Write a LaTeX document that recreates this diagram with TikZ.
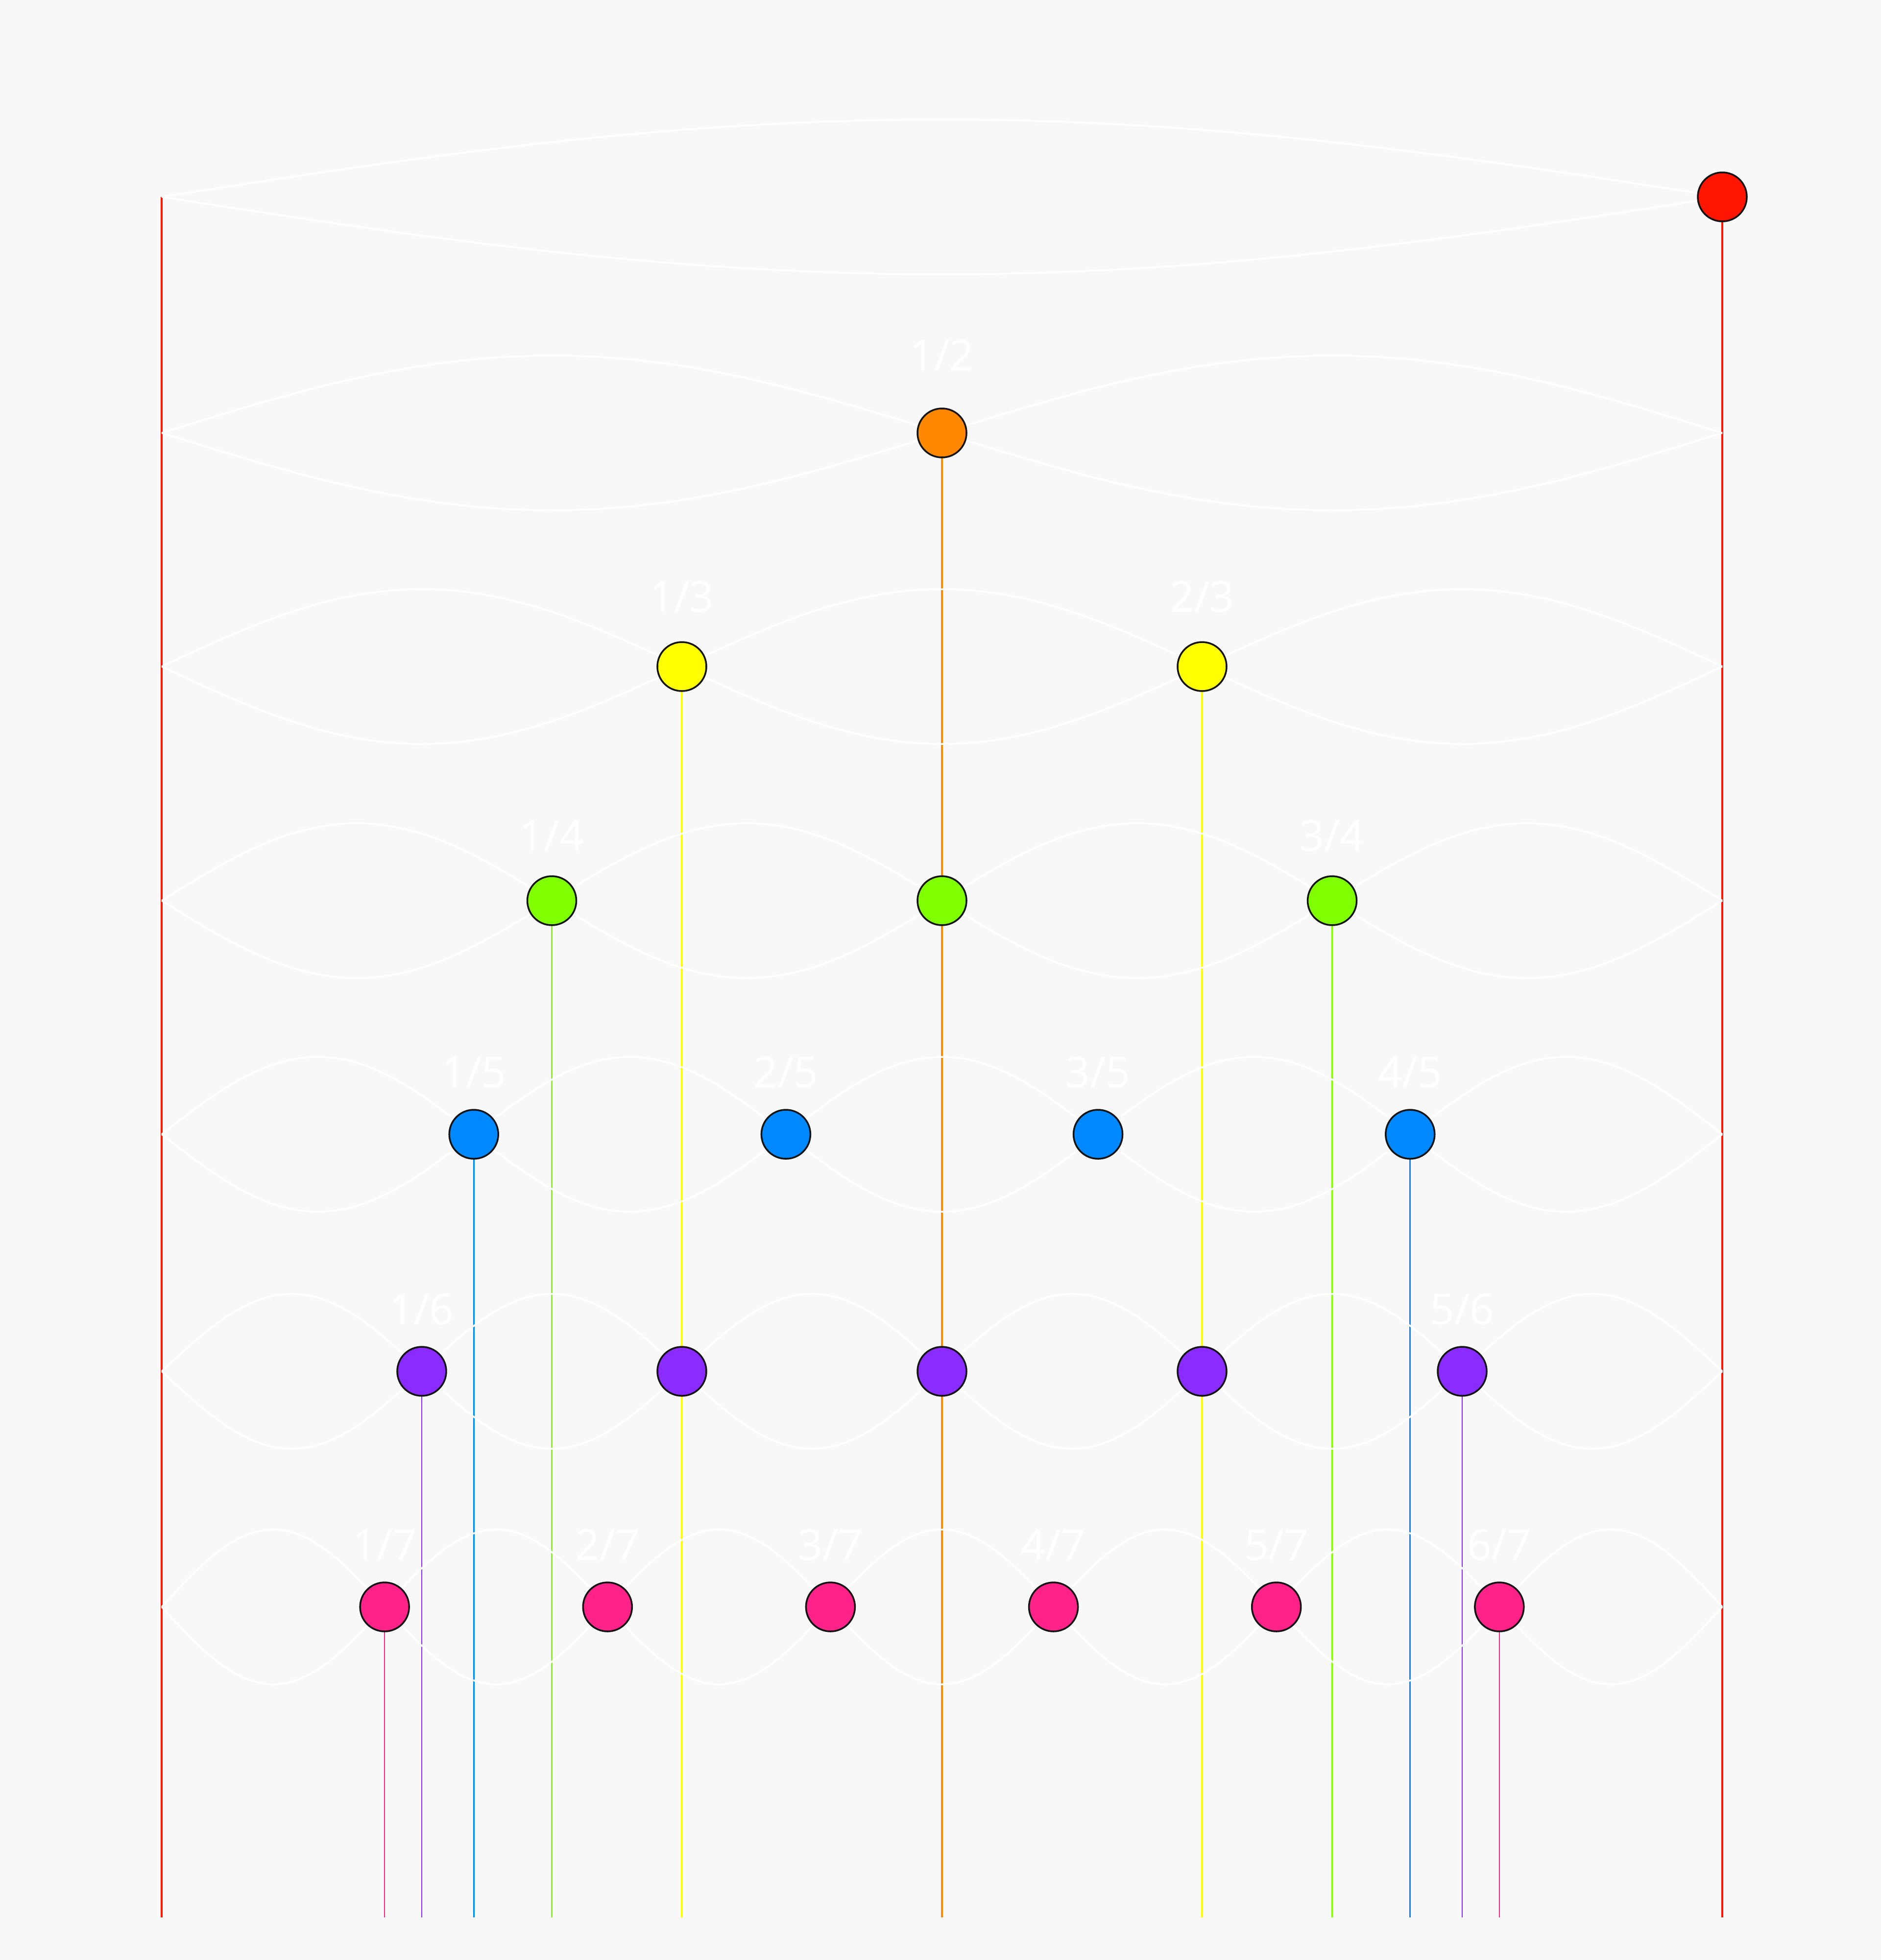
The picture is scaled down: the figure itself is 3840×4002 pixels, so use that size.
\documentclass[tikz,border=0pt]{standalone}
\usepackage{fontspec}
\setmainfont{Open Sans}
\definecolor{bgc}{HTML}{F8F8F8}
\definecolor{c1}{HTML}{FF1500}
\definecolor{c2}{HTML}{FF8800}
\definecolor{c3}{HTML}{FFFF00}
\definecolor{c4}{HTML}{80FF00}
\definecolor{c5}{HTML}{0088FF}
\definecolor{c6}{HTML}{8A2BFF}
\definecolor{c7}{HTML}{FF2288}
\pgfdeclarelayer{bglayer}
\pgfdeclarelayer{wavelayer}
\pgfsetlayers{bglayer,wavelayer,main}
\def\LL{330}
\def\RR{3516}
\newcommand\mkdot[5]{% name, color, k, n, y
  \pgfmathsetmacro\xx{\LL+#3/#4*(\RR-\LL)}
  \node[dot,fill=#2] (#1) at (\xx,#5) {};}
\newcommand\mklbl[3]{% dot, text, baseline offset
  \path (#1.center) ++(0,#3) node[lbl] (#1-lbl) {#2};}
\newcommand\mkline[3]{% dot, colour, width
  \coordinate (#1-end) at (#1.center |- bottomref);
  \begin{pgfonlayer}{bglayer}
  \draw[#2,line width=#3pt] (#1.center) -- (#1-end);
  \end{pgfonlayer}}
\newcommand\rowwave[2]{% y, n
  \pgfmathsetmacro\ww{(\RR-\LL)/#2}
  \foreach \j in {1,...,#2}{
    \pgfmathsetmacro\xa{\LL+(\j-1)*\ww}
    \pgfmathsetmacro\xm{\xa+\ww/2}
    \pgfmathsetmacro\xb{\xa+\ww}
    \draw[wave] (\xa,#1) sin (\xm,#1-158) cos (\xb,#1);
    \draw[wave] (\xa,#1) sin (\xm,#1+158) cos (\xb,#1);
  }}
\begin{document}
\begin{tikzpicture}[x=1pt,y=-1pt,
  dot/.style={circle,draw=black!92,line width=3.5pt,minimum size=100pt,inner sep=0pt},
  wave/.style={white,line width=3.5pt},
  lbl/.style={text=white,font=\fontsize{87}{90}\selectfont,inner sep=0pt,anchor=base}]
\begin{pgfonlayer}{bglayer}
\fill[bgc] (0,0) rectangle (3840,4002);
\end{pgfonlayer}
\useasboundingbox (0,0) rectangle (3840,4002);
\coordinate (bottomref) at (0,3915);

% waves
\begin{pgfonlayer}{wavelayer}
\rowwave{402}{1}
\rowwave{884}{2}
\rowwave{1361}{3}
\rowwave{1839}{4}
\rowwave{2316}{5}
\rowwave{2800}{6}
\rowwave{3281}{7}
\end{pgfonlayer}

% row 1
\coordinate (r1k0) at (\LL,402);
\mkdot{r1k1}{c1}{1}{1}{402}
\mkline{r1k0}{c1}{4.5}
\mkline{r1k1}{c1}{4.5}
% row 2
\mkdot{r2k1}{c2}{1}{2}{884}
\mkline{r2k1}{c2}{4}
\mklbl{r2k1}{1/2}{-128}
% row 3
\mkdot{r3k1}{c3}{1}{3}{1361}
\mkdot{r3k2}{c3}{2}{3}{1361}
\mkline{r3k1}{c3}{3.6}
\mkline{r3k2}{c3}{3.6}
\mklbl{r3k1}{1/3}{-112}
\mklbl{r3k2}{2/3}{-112}
% row 4
\mkdot{r4k1}{c4}{1}{4}{1839}
\mkdot{r4k2}{c4}{2}{4}{1839}
\mkdot{r4k3}{c4}{3}{4}{1839}
\mkline{r4k1}{c4}{3.2}
\mkline{r4k3}{c4}{3.2}
\mklbl{r4k1}{1/4}{-102}
\mklbl{r4k3}{3/4}{-102}
% row 5
\mkdot{r5k1}{c5}{1}{5}{2316}
\mkdot{r5k2}{c5}{2}{5}{2316}
\mkdot{r5k3}{c5}{3}{5}{2316}
\mkdot{r5k4}{c5}{4}{5}{2316}
\mkline{r5k1}{c5}{2.7}
\mkline{r5k4}{c5}{2.7}
\mklbl{r5k1}{1/5}{-96}
\mklbl{r5k2}{2/5}{-96}
\mklbl{r5k3}{3/5}{-96}
\mklbl{r5k4}{4/5}{-96}
% row 6
\mkdot{r6k1}{c6}{1}{6}{2800}
\mkdot{r6k2}{c6}{2}{6}{2800}
\mkdot{r6k3}{c6}{3}{6}{2800}
\mkdot{r6k4}{c6}{4}{6}{2800}
\mkdot{r6k5}{c6}{5}{6}{2800}
\mkline{r6k1}{c6}{2.3}
\mkline{r6k5}{c6}{2.3}
\mklbl{r6k1}{1/6}{-96}
\mklbl{r6k5}{5/6}{-96}
% row 7
\mkdot{r7k1}{c7}{1}{7}{3281}
\mkdot{r7k2}{c7}{2}{7}{3281}
\mkdot{r7k3}{c7}{3}{7}{3281}
\mkdot{r7k4}{c7}{4}{7}{3281}
\mkdot{r7k5}{c7}{5}{7}{3281}
\mkdot{r7k6}{c7}{6}{7}{3281}
\mkline{r7k1}{c7}{2}
\mkline{r7k6}{c7}{2}
\mklbl{r7k1}{1/7}{-96}
\mklbl{r7k2}{2/7}{-96}
\mklbl{r7k3}{3/7}{-96}
\mklbl{r7k4}{4/7}{-96}
\mklbl{r7k5}{5/7}{-96}
\mklbl{r7k6}{6/7}{-96}
\end{tikzpicture}
\end{document}
